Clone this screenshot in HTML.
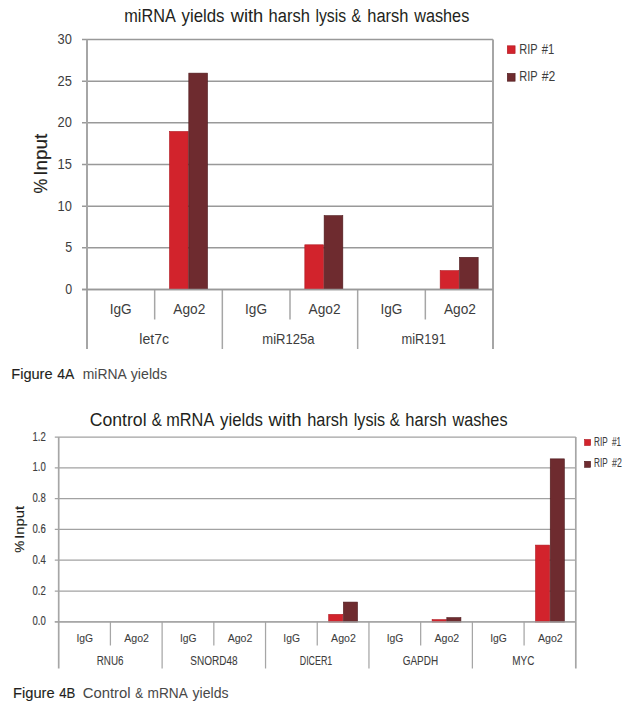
<!DOCTYPE html>
<html><head><meta charset="utf-8"><style>
html,body{margin:0;padding:0;background:#fff;width:635px;height:714px;overflow:hidden}
svg{display:block;font-family:"Liberation Sans",sans-serif}
</style></head><body>
<svg width="635" height="714" viewBox="0 0 635 714">
<line x1="82.00" y1="39.50" x2="493.00" y2="39.50" stroke="#999999" stroke-width="1.5"/>
<line x1="82.00" y1="81.17" x2="493.00" y2="81.17" stroke="#999999" stroke-width="1.5"/>
<line x1="82.00" y1="122.83" x2="493.00" y2="122.83" stroke="#999999" stroke-width="1.5"/>
<line x1="82.00" y1="164.50" x2="493.00" y2="164.50" stroke="#999999" stroke-width="1.5"/>
<line x1="82.00" y1="206.17" x2="493.00" y2="206.17" stroke="#999999" stroke-width="1.5"/>
<line x1="82.00" y1="247.83" x2="493.00" y2="247.83" stroke="#999999" stroke-width="1.5"/>
<line x1="82.00" y1="289.50" x2="493.00" y2="289.50" stroke="#999999" stroke-width="1.5"/>
<line x1="87.00" y1="39.50" x2="87.00" y2="349.00" stroke="#a6a6a6" stroke-width="2"/>
<line x1="493.00" y1="39.50" x2="493.00" y2="349.00" stroke="#a6a6a6" stroke-width="2"/>
<line x1="154.67" y1="289.50" x2="154.67" y2="319.50" stroke="#a6a6a6" stroke-width="1.5"/>
<line x1="222.33" y1="289.50" x2="222.33" y2="349.00" stroke="#a6a6a6" stroke-width="1.5"/>
<line x1="290.00" y1="289.50" x2="290.00" y2="319.50" stroke="#a6a6a6" stroke-width="1.5"/>
<line x1="357.67" y1="289.50" x2="357.67" y2="349.00" stroke="#a6a6a6" stroke-width="1.5"/>
<line x1="425.33" y1="289.50" x2="425.33" y2="319.50" stroke="#a6a6a6" stroke-width="1.5"/>
<rect x="169.50" y="131.47" width="18.70" height="158.23" fill="#d2232c" stroke="#b0161f" stroke-width="0.6"/>
<rect x="188.80" y="73.13" width="18.70" height="216.57" fill="#6e2b2f" stroke="#4c181b" stroke-width="0.6"/>
<rect x="304.83" y="244.80" width="18.70" height="44.90" fill="#d2232c" stroke="#b0161f" stroke-width="0.6"/>
<rect x="324.13" y="215.63" width="18.70" height="74.07" fill="#6e2b2f" stroke="#4c181b" stroke-width="0.6"/>
<rect x="440.17" y="270.63" width="18.70" height="19.07" fill="#d2232c" stroke="#b0161f" stroke-width="0.6"/>
<rect x="459.47" y="257.30" width="18.70" height="32.40" fill="#6e2b2f" stroke="#4c181b" stroke-width="0.6"/>
<line x1="82.00" y1="289.50" x2="493.00" y2="289.50" stroke="#999999" stroke-width="1.5"/>
<text x="124.25" y="21.6" font-size="17.88" font-weight="normal" fill="#231f20" textLength="51.53" lengthAdjust="spacingAndGlyphs" >miRNA</text>
<text x="181.50" y="21.6" font-size="17.88" font-weight="normal" fill="#231f20" textLength="43.01" lengthAdjust="spacingAndGlyphs" >yields</text>
<text x="230.75" y="21.6" font-size="17.88" font-weight="normal" fill="#231f20" textLength="32.54" lengthAdjust="spacingAndGlyphs" >with</text>
<text x="268.50" y="21.6" font-size="17.88" font-weight="normal" fill="#231f20" textLength="41.37" lengthAdjust="spacingAndGlyphs" >harsh</text>
<text x="315.50" y="21.6" font-size="17.88" font-weight="normal" fill="#231f20" textLength="30.58" lengthAdjust="spacingAndGlyphs" >lysis</text>
<text x="351.50" y="21.6" font-size="17.88" font-weight="normal" fill="#231f20" textLength="9.55" lengthAdjust="spacingAndGlyphs" >&amp;</text>
<text x="367.25" y="21.6" font-size="17.88" font-weight="normal" fill="#231f20" textLength="41.12" lengthAdjust="spacingAndGlyphs" >harsh</text>
<text x="414.25" y="21.6" font-size="17.88" font-weight="normal" fill="#231f20" textLength="55.01" lengthAdjust="spacingAndGlyphs" >washes</text>
<text x="57.50" y="43.90" font-size="14.53" font-weight="normal" fill="#3d3d3d" textLength="14.33" lengthAdjust="spacingAndGlyphs" >30</text>
<text x="57.50" y="85.57" font-size="14.53" font-weight="normal" fill="#3d3d3d" textLength="14.33" lengthAdjust="spacingAndGlyphs" >25</text>
<text x="57.50" y="127.23" font-size="14.53" font-weight="normal" fill="#3d3d3d" textLength="14.33" lengthAdjust="spacingAndGlyphs" >20</text>
<text x="57.50" y="168.90" font-size="14.53" font-weight="normal" fill="#3d3d3d" textLength="14.33" lengthAdjust="spacingAndGlyphs" >15</text>
<text x="57.50" y="210.57" font-size="14.53" font-weight="normal" fill="#3d3d3d" textLength="14.33" lengthAdjust="spacingAndGlyphs" >10</text>
<text x="65.25" y="252.23" font-size="14.53" font-weight="normal" fill="#3d3d3d" textLength="6.92" lengthAdjust="spacingAndGlyphs" >5</text>
<text x="65.25" y="293.90" font-size="14.53" font-weight="normal" fill="#3d3d3d" textLength="6.92" lengthAdjust="spacingAndGlyphs" >0</text>
<text x="109.75" y="313.9" font-size="15.12" font-weight="normal" fill="#3d3d3d" textLength="21.98" lengthAdjust="spacingAndGlyphs" >IgG</text>
<text x="173.25" y="313.9" font-size="15.12" font-weight="normal" fill="#3d3d3d" textLength="32.03" lengthAdjust="spacingAndGlyphs" >Ago2</text>
<text x="139.25" y="344.0" font-size="15.12" font-weight="normal" fill="#3d3d3d" textLength="29.82" lengthAdjust="spacingAndGlyphs" >let7c</text>
<text x="245.08" y="313.9" font-size="15.12" font-weight="normal" fill="#3d3d3d" textLength="21.98" lengthAdjust="spacingAndGlyphs" >IgG</text>
<text x="308.58" y="313.9" font-size="15.12" font-weight="normal" fill="#3d3d3d" textLength="32.03" lengthAdjust="spacingAndGlyphs" >Ago2</text>
<text x="262.25" y="344.0" font-size="15.12" font-weight="normal" fill="#3d3d3d" textLength="52.27" lengthAdjust="spacingAndGlyphs" >miR125a</text>
<text x="380.42" y="313.9" font-size="15.12" font-weight="normal" fill="#3d3d3d" textLength="21.98" lengthAdjust="spacingAndGlyphs" >IgG</text>
<text x="443.92" y="313.9" font-size="15.12" font-weight="normal" fill="#3d3d3d" textLength="32.03" lengthAdjust="spacingAndGlyphs" >Ago2</text>
<text x="401.50" y="344.0" font-size="15.12" font-weight="normal" fill="#3d3d3d" textLength="44.31" lengthAdjust="spacingAndGlyphs" >miR191</text>
<text x="0" y="0" font-size="17.88" fill="#231f20" stroke="#231f20" stroke-width="0.2" textLength="14.85" lengthAdjust="spacingAndGlyphs" transform="translate(46.7,371.9) rotate(-90) translate(178.50,0)">%</text>
<text x="0" y="0" font-size="17.88" fill="#231f20" stroke="#231f20" stroke-width="0.2" textLength="42.08" lengthAdjust="spacingAndGlyphs" transform="translate(46.7,308.1) rotate(-90) translate(132.25,0)">Input</text>
<rect x="507.30" y="45.80" width="7.80" height="7.80" fill="#d2232c" stroke="#b0161f" stroke-width="0.6"/>
<rect x="507.30" y="73.40" width="7.80" height="7.80" fill="#6e2b2f" stroke="#4c181b" stroke-width="0.6"/>
<text x="519.25" y="53.7" font-size="15.12" font-weight="normal" fill="#3d3d3d" textLength="18.37" lengthAdjust="spacingAndGlyphs" >RIP</text>
<text x="541.75" y="53.7" font-size="15.12" font-weight="normal" fill="#3d3d3d" textLength="12.54" lengthAdjust="spacingAndGlyphs" >#1</text>
<text x="519.25" y="81.3" font-size="15.12" font-weight="normal" fill="#3d3d3d" textLength="18.37" lengthAdjust="spacingAndGlyphs" >RIP</text>
<text x="541.75" y="81.3" font-size="15.12" font-weight="normal" fill="#3d3d3d" textLength="13.53" lengthAdjust="spacingAndGlyphs" >#2</text>
<text x="11.25" y="379.1" font-size="14.97" font-weight="normal" fill="#231f20" stroke="#231f20" stroke-width="0.12" textLength="41.33" lengthAdjust="spacingAndGlyphs" >Figure</text>
<text x="57.25" y="379.1" font-size="14.97" font-weight="normal" fill="#231f20" stroke="#231f20" stroke-width="0.12" textLength="17.02" lengthAdjust="spacingAndGlyphs" >4A</text>
<text x="82.75" y="379.1" font-size="14.97" font-weight="normal" fill="#484848" textLength="44.02" lengthAdjust="spacingAndGlyphs" >miRNA</text>
<text x="130.75" y="379.1" font-size="14.97" font-weight="normal" fill="#484848" textLength="36.27" lengthAdjust="spacingAndGlyphs" >yields</text>
<line x1="54.80" y1="437.00" x2="575.80" y2="437.00" stroke="#a2a2a2" stroke-width="1.25"/>
<line x1="54.80" y1="467.80" x2="575.80" y2="467.80" stroke="#a2a2a2" stroke-width="1.25"/>
<line x1="54.80" y1="498.60" x2="575.80" y2="498.60" stroke="#a2a2a2" stroke-width="1.25"/>
<line x1="54.80" y1="529.40" x2="575.80" y2="529.40" stroke="#a2a2a2" stroke-width="1.25"/>
<line x1="54.80" y1="560.20" x2="575.80" y2="560.20" stroke="#a2a2a2" stroke-width="1.25"/>
<line x1="54.80" y1="591.00" x2="575.80" y2="591.00" stroke="#a2a2a2" stroke-width="1.25"/>
<line x1="54.80" y1="621.80" x2="575.80" y2="621.80" stroke="#a2a2a2" stroke-width="1.25"/>
<line x1="58.70" y1="437.00" x2="58.70" y2="668.50" stroke="#a6a6a6" stroke-width="1.7"/>
<line x1="575.80" y1="437.00" x2="575.80" y2="668.50" stroke="#a6a6a6" stroke-width="1.7"/>
<line x1="110.41" y1="621.80" x2="110.41" y2="645.50" stroke="#a6a6a6" stroke-width="1.25"/>
<line x1="162.12" y1="621.80" x2="162.12" y2="668.50" stroke="#a6a6a6" stroke-width="1.25"/>
<line x1="213.83" y1="621.80" x2="213.83" y2="645.50" stroke="#a6a6a6" stroke-width="1.25"/>
<line x1="265.54" y1="621.80" x2="265.54" y2="668.50" stroke="#a6a6a6" stroke-width="1.25"/>
<line x1="317.25" y1="621.80" x2="317.25" y2="645.50" stroke="#a6a6a6" stroke-width="1.25"/>
<line x1="368.96" y1="621.80" x2="368.96" y2="668.50" stroke="#a6a6a6" stroke-width="1.25"/>
<line x1="420.67" y1="621.80" x2="420.67" y2="645.50" stroke="#a6a6a6" stroke-width="1.25"/>
<line x1="472.38" y1="621.80" x2="472.38" y2="668.50" stroke="#a6a6a6" stroke-width="1.25"/>
<line x1="524.09" y1="621.80" x2="524.09" y2="645.50" stroke="#a6a6a6" stroke-width="1.25"/>
<rect x="328.70" y="614.40" width="14.10" height="7.60" fill="#d2232c" stroke="#b0161f" stroke-width="0.6"/>
<rect x="343.40" y="602.08" width="14.10" height="19.92" fill="#6e2b2f" stroke="#4c181b" stroke-width="0.6"/>
<rect x="432.12" y="619.64" width="14.10" height="2.36" fill="#d2232c" stroke="#b0161f" stroke-width="0.6"/>
<rect x="446.82" y="617.63" width="14.10" height="4.37" fill="#6e2b2f" stroke="#4c181b" stroke-width="0.6"/>
<rect x="535.54" y="545.10" width="14.10" height="76.90" fill="#d2232c" stroke="#b0161f" stroke-width="0.6"/>
<rect x="550.24" y="458.86" width="14.10" height="163.14" fill="#6e2b2f" stroke="#4c181b" stroke-width="0.6"/>
<line x1="54.80" y1="621.80" x2="575.80" y2="621.80" stroke="#a2a2a2" stroke-width="1.25"/>
<text x="89.75" y="425.5" font-size="17.88" font-weight="normal" fill="#231f20" textLength="56.83" lengthAdjust="spacingAndGlyphs" >Control</text>
<text x="151.75" y="425.5" font-size="17.88" font-weight="normal" fill="#231f20" textLength="10.05" lengthAdjust="spacingAndGlyphs" >&amp;</text>
<text x="166.25" y="425.5" font-size="17.88" font-weight="normal" fill="#231f20" textLength="48.03" lengthAdjust="spacingAndGlyphs" >mRNA</text>
<text x="220.00" y="425.5" font-size="17.88" font-weight="normal" fill="#231f20" textLength="43.01" lengthAdjust="spacingAndGlyphs" >yields</text>
<text x="268.50" y="425.5" font-size="17.88" font-weight="normal" fill="#231f20" textLength="33.29" lengthAdjust="spacingAndGlyphs" >with</text>
<text x="307.25" y="425.5" font-size="17.88" font-weight="normal" fill="#231f20" textLength="40.87" lengthAdjust="spacingAndGlyphs" >harsh</text>
<text x="353.75" y="425.5" font-size="17.88" font-weight="normal" fill="#231f20" textLength="31.36" lengthAdjust="spacingAndGlyphs" >lysis</text>
<text x="389.75" y="425.5" font-size="17.88" font-weight="normal" fill="#231f20" textLength="10.07" lengthAdjust="spacingAndGlyphs" >&amp;</text>
<text x="405.25" y="425.5" font-size="17.88" font-weight="normal" fill="#231f20" textLength="41.37" lengthAdjust="spacingAndGlyphs" >harsh</text>
<text x="452.50" y="425.5" font-size="17.88" font-weight="normal" fill="#231f20" textLength="55.00" lengthAdjust="spacingAndGlyphs" >washes</text>
<text x="32.50" y="440.60" font-size="12.35" font-weight="normal" fill="#3d3d3d" stroke="#3d3d3d" stroke-width="0.15" textLength="13.28" lengthAdjust="spacingAndGlyphs" >1.2</text>
<text x="32.50" y="471.40" font-size="12.35" font-weight="normal" fill="#3d3d3d" stroke="#3d3d3d" stroke-width="0.15" textLength="13.28" lengthAdjust="spacingAndGlyphs" >1.0</text>
<text x="32.50" y="502.20" font-size="12.35" font-weight="normal" fill="#3d3d3d" stroke="#3d3d3d" stroke-width="0.15" textLength="13.28" lengthAdjust="spacingAndGlyphs" >0.8</text>
<text x="32.50" y="533.00" font-size="12.35" font-weight="normal" fill="#3d3d3d" stroke="#3d3d3d" stroke-width="0.15" textLength="13.28" lengthAdjust="spacingAndGlyphs" >0.6</text>
<text x="32.50" y="563.80" font-size="12.35" font-weight="normal" fill="#3d3d3d" stroke="#3d3d3d" stroke-width="0.15" textLength="13.28" lengthAdjust="spacingAndGlyphs" >0.4</text>
<text x="32.50" y="594.60" font-size="12.35" font-weight="normal" fill="#3d3d3d" stroke="#3d3d3d" stroke-width="0.15" textLength="13.28" lengthAdjust="spacingAndGlyphs" >0.2</text>
<text x="32.50" y="625.40" font-size="12.35" font-weight="normal" fill="#3d3d3d" stroke="#3d3d3d" stroke-width="0.15" textLength="13.28" lengthAdjust="spacingAndGlyphs" >0.0</text>
<text x="76.50" y="642" font-size="11.48" font-weight="normal" fill="#3d3d3d" stroke="#3d3d3d" stroke-width="0.08" textLength="16.67" lengthAdjust="spacingAndGlyphs" >IgG</text>
<text x="124.25" y="642" font-size="11.48" font-weight="normal" fill="#3d3d3d" stroke="#3d3d3d" stroke-width="0.08" textLength="24.77" lengthAdjust="spacingAndGlyphs" >Ago2</text>
<text x="96.75" y="665" font-size="11.92" font-weight="normal" fill="#3d3d3d" stroke="#3d3d3d" stroke-width="0.08" textLength="26.80" lengthAdjust="spacingAndGlyphs" >RNU6</text>
<text x="179.92" y="642" font-size="11.48" font-weight="normal" fill="#3d3d3d" stroke="#3d3d3d" stroke-width="0.08" textLength="16.67" lengthAdjust="spacingAndGlyphs" >IgG</text>
<text x="227.67" y="642" font-size="11.48" font-weight="normal" fill="#3d3d3d" stroke="#3d3d3d" stroke-width="0.08" textLength="24.77" lengthAdjust="spacingAndGlyphs" >Ago2</text>
<text x="190.25" y="665" font-size="11.92" font-weight="normal" fill="#3d3d3d" stroke="#3d3d3d" stroke-width="0.08" textLength="47.27" lengthAdjust="spacingAndGlyphs" >SNORD48</text>
<text x="283.34" y="642" font-size="11.48" font-weight="normal" fill="#3d3d3d" stroke="#3d3d3d" stroke-width="0.08" textLength="16.67" lengthAdjust="spacingAndGlyphs" >IgG</text>
<text x="331.09" y="642" font-size="11.48" font-weight="normal" fill="#3d3d3d" stroke="#3d3d3d" stroke-width="0.08" textLength="24.77" lengthAdjust="spacingAndGlyphs" >Ago2</text>
<text x="299.75" y="665" font-size="11.92" font-weight="normal" fill="#3d3d3d" stroke="#3d3d3d" stroke-width="0.08" textLength="32.53" lengthAdjust="spacingAndGlyphs" >DICER1</text>
<text x="386.76" y="642" font-size="11.48" font-weight="normal" fill="#3d3d3d" stroke="#3d3d3d" stroke-width="0.08" textLength="16.67" lengthAdjust="spacingAndGlyphs" >IgG</text>
<text x="434.51" y="642" font-size="11.48" font-weight="normal" fill="#3d3d3d" stroke="#3d3d3d" stroke-width="0.08" textLength="24.77" lengthAdjust="spacingAndGlyphs" >Ago2</text>
<text x="402.75" y="665" font-size="11.92" font-weight="normal" fill="#3d3d3d" stroke="#3d3d3d" stroke-width="0.08" textLength="35.30" lengthAdjust="spacingAndGlyphs" >GAPDH</text>
<text x="490.18" y="642" font-size="11.48" font-weight="normal" fill="#3d3d3d" stroke="#3d3d3d" stroke-width="0.08" textLength="16.67" lengthAdjust="spacingAndGlyphs" >IgG</text>
<text x="537.93" y="642" font-size="11.48" font-weight="normal" fill="#3d3d3d" stroke="#3d3d3d" stroke-width="0.08" textLength="24.77" lengthAdjust="spacingAndGlyphs" >Ago2</text>
<text x="512.25" y="665" font-size="11.92" font-weight="normal" fill="#3d3d3d" stroke="#3d3d3d" stroke-width="0.08" textLength="22.08" lengthAdjust="spacingAndGlyphs" >MYC</text>
<text x="0" y="0" font-size="12.21" fill="#231f20" stroke="#231f20" stroke-width="0.15" textLength="12.10" lengthAdjust="spacingAndGlyphs" transform="translate(24.0,1093.5) rotate(-90) translate(540.75,0)">%</text>
<text x="0" y="0" font-size="12.21" fill="#231f20" stroke="#231f20" stroke-width="0.15" textLength="32.82" lengthAdjust="spacingAndGlyphs" transform="translate(24.0,1043.5) rotate(-90) translate(504.75,0)">Input</text>
<rect x="584.60" y="439.50" width="6.00" height="6.00" fill="#d2232c" stroke="#b0161f" stroke-width="0.6"/>
<rect x="584.60" y="461.30" width="6.00" height="6.00" fill="#6e2b2f" stroke="#4c181b" stroke-width="0.6"/>
<text x="594.00" y="445.8" font-size="12.79" font-weight="normal" fill="#3d3d3d" stroke="#3d3d3d" stroke-width="0.1" textLength="13.59" lengthAdjust="spacingAndGlyphs" >RIP</text>
<text x="612.00" y="445.8" font-size="12.79" font-weight="normal" fill="#3d3d3d" stroke="#3d3d3d" stroke-width="0.1" textLength="9.04" lengthAdjust="spacingAndGlyphs" >#1</text>
<text x="594.00" y="467.4" font-size="12.79" font-weight="normal" fill="#3d3d3d" stroke="#3d3d3d" stroke-width="0.1" textLength="13.59" lengthAdjust="spacingAndGlyphs" >RIP</text>
<text x="612.00" y="467.4" font-size="12.79" font-weight="normal" fill="#3d3d3d" stroke="#3d3d3d" stroke-width="0.1" textLength="9.78" lengthAdjust="spacingAndGlyphs" >#2</text>
<text x="13.00" y="698.3" font-size="14.39" font-weight="normal" fill="#231f20" stroke="#231f20" stroke-width="0.12" textLength="41.58" lengthAdjust="spacingAndGlyphs" >Figure</text>
<text x="59.25" y="698.3" font-size="14.39" font-weight="normal" fill="#231f20" stroke="#231f20" stroke-width="0.12" textLength="16.06" lengthAdjust="spacingAndGlyphs" >4B</text>
<text x="82.75" y="698.3" font-size="14.39" font-weight="normal" fill="#484848" textLength="47.82" lengthAdjust="spacingAndGlyphs" >Control</text>
<text x="135.25" y="698.3" font-size="14.39" font-weight="normal" fill="#484848" textLength="7.81" lengthAdjust="spacingAndGlyphs" >&amp;</text>
<text x="147.50" y="698.3" font-size="14.39" font-weight="normal" fill="#484848" textLength="40.28" lengthAdjust="spacingAndGlyphs" >mRNA</text>
<text x="192.50" y="698.3" font-size="14.39" font-weight="normal" fill="#484848" textLength="36.01" lengthAdjust="spacingAndGlyphs" >yields</text>
</svg>
</body></html>
